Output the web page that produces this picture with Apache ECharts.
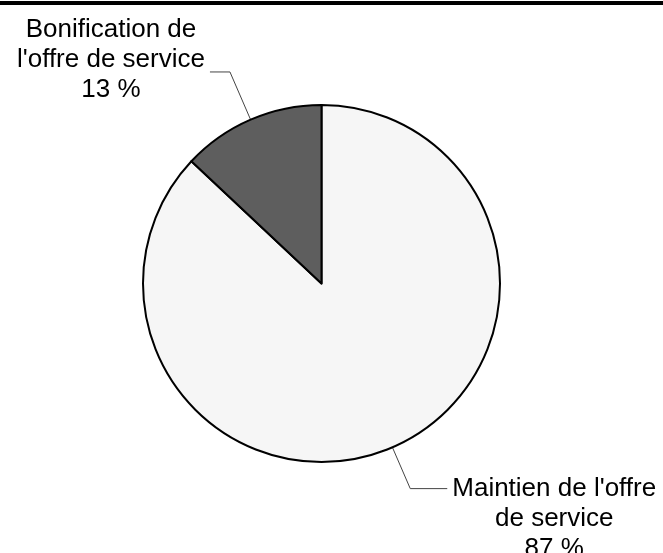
<!DOCTYPE html>
<html>
<head>
<meta charset="utf-8">
<script src="https://cdn.jsdelivr.net/npm/echarts@6/dist/echarts.min.js"></script>
<style>
  html, body { margin: 0; padding: 0; background: #fff; }
  #chart { width: 663px; height: 553px; }
</style>
</head>
<body>
<div id="chart"></div>
<script>
// Répartition de l'offre de service (%)
const names = ["Maintien de l'offre\nde service", "Bonification de\nl'offre de service"];
const values = [87, 13];
const colors = ['#f6f6f6', '#5e5e5e'];

const FONT = "'Liberation Sans', Arial, sans-serif";

// per-slice leader line and label offsets (layout only)
const lines = [
  { length: 45, length2: 37, padding: [60, 0, 0, 0] },
  { length: 52, length2: 20, padding: [0, 0, 24, 0] },
];

const chart = echarts.init(document.getElementById('chart'));

const data = values.map((v, i) => ({
  name: names[i],
  value: v,
  itemStyle: { color: colors[i] },
  labelLine: { length: lines[i].length, length2: lines[i].length2 },
  label: { padding: lines[i].padding },
}));

chart.setOption({
  animation: false,
  backgroundColor: '#ffffff',
  textStyle: { fontFamily: FONT },
  graphic: [{
    type: 'rect', left: 0, top: 1,
    shape: { width: 663, height: 4 },
    style: { fill: '#000' },
  }],
  series: [{
    type: 'pie',
    left: 0, top: 0, width: 663, height: 640,
    center: [321.5, 283.5],
    radius: 178.5,
    startAngle: 90,
    clockwise: true,
    avoidLabelOverlap: false,
    itemStyle: { borderColor: '#000', borderWidth: 2 },
    emphasis: { disabled: true },
    label: {
      show: true,
      position: 'outside',
      bleedMargin: 0,
      overflow: 'none',
      formatter: (p) => p.name.split('\n').map((s) => `{c|${s}}`).join('\n')
        + `\n{c|${p.value} %}`,
      rich: {
        c: { align: 'center', fontSize: 26, lineHeight: 30, color: '#000', fontFamily: FONT },
      },
    },
    labelLine: {
      show: true,
      lineStyle: { color: '#444', width: 1 },
    },
    data,
  }],
});
</script>
</body>
</html>
